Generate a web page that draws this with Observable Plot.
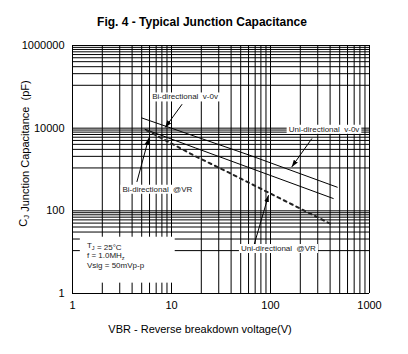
<!DOCTYPE html>
<html><head><meta charset="utf-8">
<script src="https://cdn.jsdelivr.net/npm/d3@7"></script>
<script src="https://cdn.jsdelivr.net/npm/@observablehq/plot@0.6"></script>
<style>body{margin:0;background:#fff}</style>
</head><body><div id="chart"></div>
<script>
// ---- text ----
const title = "Fig. 4 - Typical Junction Capacitance";
const xLabel = "VBR - Reverse breakdown voltage(V)";
const yLabel = "C_J Junction Capacitance  (pF)";
const xTicks = [1, 10, 100, 1000];
const yTicks = [1, 100, 10000, 1000000];

// ---- series (V, pF) ----
const biZeroV = [5.0, 62, 472];
const biZeroC = [17700, 2200, 373];
const uniZeroV = [5.4, 17.4, 430];
const uniZeroC = [9400, 3330, 199];
const atVRV = [5.6, 17.4, 39, 430];
const atVRC = [8900, 2100, 815, 45];

// ---- annotations (data coordinates) ----
const labelText = ["Bi-directional  v-0v", "Uni-directional  v-0v", "Bi-directional  @VR", "Uni-directional  @VR"];
const labelV = [13.7, 347, 7.2, 120];
const labelC = [57100, 9440, 334, 12.3];
const arrowFromV = [12.8, 262, 4.47, 67.3];
const arrowFromC = [38000, 5620, 501, 13.4];
const arrowToV = [8.64, 164, 5.89, 95.5];
const arrowToC = [10400, 1156, 5720, 239];
const condText = ["T_J = 25°C", "f = 1.0MH_z", "Vsig = 50mVp-p"];
const condV = [1.4, 1.4, 1.4];
const condC = [14.7, 8.2, 4.7];
const boxV = [1.2, 10.9];
const boxC = [1.78, 23];

// ---- build tables ----
const series = (v, c) => v.map((x, i) => ({x, y: c[i]}));
const biZero = series(biZeroV, biZeroC);
const uniZero = series(uniZeroV, uniZeroC);
const atVR = series(atVRV, atVRC);
const labels = labelText.map((t, i) => ({t, x: labelV[i], y: labelC[i]}));
const arrows = arrowFromV.map((x1, i) => ({x1, y1: arrowFromC[i], x2: arrowToV[i], y2: arrowToC[i]}));
const conds = condText.map((t, i) => ({t, x: condV[i], y: condC[i]}));
const box = [{x1: boxV[0], x2: boxV[1], y1: boxC[0], y2: boxC[1]}];

// grid: log10 minors on x; linear steps within each major interval on y
const xGrid = [];
for (let i = 0; i < xTicks.length - 1; i++) for (let k = 1; k < 10; k++) xGrid.push(k * xTicks[i]);
xGrid.push(xTicks[xTicks.length - 1]);
const yGrid = [];
for (let i = 0; i < yTicks.length - 1; i++) {
  const a = yTicks[i], b = yTicks[i + 1];
  for (let k = 0; k < 10; k++) yGrid.push(a + k * (b - a) / 10);
}
yGrid.push(yTicks[yTicks.length - 1]);

const chart = Plot.plot({
  width: 408, height: 354,
  marginLeft: 72, marginRight: 39, marginTop: 45, marginBottom: 61,
  style: {fontFamily: "'Liberation Sans', Arial, sans-serif", fontSize: "11px", background: "white", color: "black"},
  x: {type: "log", domain: [1, 1000], ticks: xTicks, tickFormat: d => String(d), tickSize: 0, tickPadding: 8, label: null},
  y: {type: "log", domain: [1, 1000000], ticks: yTicks, tickFormat: d => String(d), tickSize: 0, tickPadding: 8, label: null},
  marks: [
    Plot.ruleX(xGrid, {x: d => d, stroke: "black", strokeWidth: 1}),
    Plot.ruleY(yGrid, {y: d => d, stroke: "black", strokeWidth: 1}),
    Plot.rect(box, {x1: "x1", x2: "x2", y1: "y1", y2: "y2", fill: "white", inset: 0}),
    Plot.line(biZero, {x: "x", y: "y", stroke: "black", strokeWidth: 1}),
    Plot.line(uniZero, {x: "x", y: "y", stroke: "black", strokeWidth: 1}),
    Plot.line(atVR, {x: "x", y: "y", stroke: "#222", strokeWidth: 2, strokeDasharray: "3,4"}),
    Plot.link(arrows, {x1: "x1", y1: "y1", x2: "x2", y2: "y2", stroke: "black", strokeWidth: 1, markerEnd: "arrow"}),
    Plot.text(labels, {x: "x", y: "y", text: "t", fontSize: 8, fill: "#222", textAnchor: "middle", lineAnchor: "middle"}),
    Plot.text(conds, {x: "x", y: "y", text: "t", fontSize: 8, fill: "#222", textAnchor: "start", lineAnchor: "middle"}),
    Plot.text([title], {text: d => d, frameAnchor: "top", textAnchor: "middle", lineAnchor: "middle", dx: -19, dy: -23, fontSize: 12, fontWeight: "bold", fill: "black"}),
    Plot.text([xLabel], {text: d => d, frameAnchor: "bottom", textAnchor: "middle", lineAnchor: "middle", dx: -21, dy: 36, fontSize: 11, fill: "black"}),
    Plot.text([yLabel], {text: d => d, frameAnchor: "left", textAnchor: "middle", lineAnchor: "middle", rotate: -90, dx: -49, dy: -16, fontSize: 11, fill: "black"})
  ]
});

// filled arrowheads
d3.select(chart).selectAll("marker")
  .attr("viewBox", "-10 -5 10 10").attr("markerWidth", 7).attr("markerHeight", 7)
  .attr("fill", "black").attr("stroke", "none")
  .selectAll("path").attr("d", "M-10,-3.5L0,0L-10,3.5Z");

// subscripts: "_x" -> subscript x
d3.select(chart).selectAll("text").each(function() {
  const el = d3.select(this);
  const s = this.textContent;
  if (!s.includes("_") || this.children.length) return;
  el.style("white-space", "pre");
  const parts = s.split(/_(.)/);
  el.text(null);
  parts.forEach((p, i) => {
    if (p === "") return;
    if (i % 2 === 1) {
      el.append("tspan").attr("dy", 2).attr("font-size", "70%").text(p);
      el.append("tspan").attr("dy", -2).text("");
    } else {
      el.append("tspan").text(p);
    }
  });
});

document.getElementById("chart").appendChild(chart);

// white boxes behind the curve labels
d3.select(chart).selectAll("text").filter(function() { return labelText.includes(this.textContent); })
  .each(function() {
    const b = this.getBBox();
    const r = document.createElementNS("http://www.w3.org/2000/svg", "rect");
    r.setAttribute("x", b.x - 2);
    r.setAttribute("y", b.y);
    r.setAttribute("width", b.width + 4);
    r.setAttribute("height", b.height);
    r.setAttribute("fill", "white");
    r.setAttribute("stroke", "none");
    const tr = this.getAttribute("transform");
    if (tr) r.setAttribute("transform", tr);
    this.parentNode.insertBefore(r, this);
  });
</script>
</body></html>
